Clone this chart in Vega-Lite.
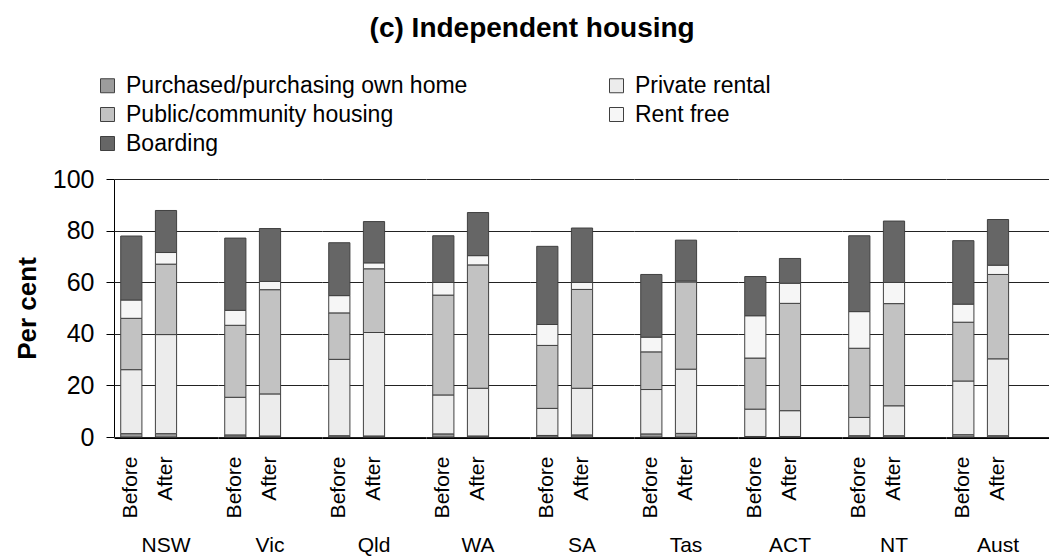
{
  "$schema": "https://vega.github.io/schema/vega-lite/v6.json",
  "padding": {"left": 14, "top": 15, "right": 0, "bottom": 0},
  "background": "white",
  "title": {"text": "(c) Independent housing", "fontSize": 28, "fontWeight": "bold", "anchor": "middle", "frame": "bounds", "color": "#000", "offset": 31},
  "data": {"values": [
    {"jur":"NSW","period":"Before","type":"Purchased/purchasing own home","value":1.3},
    {"jur":"NSW","period":"Before","type":"Private rental","value":24.8},
    {"jur":"NSW","period":"Before","type":"Public/community housing","value":19.9},
    {"jur":"NSW","period":"Before","type":"Rent free","value":7.1},
    {"jur":"NSW","period":"Before","type":"Boarding","value":24.8},
    {"jur":"NSW","period":"After","type":"Purchased/purchasing own home","value":1.3},
    {"jur":"NSW","period":"After","type":"Private rental","value":38.4},
    {"jur":"NSW","period":"After","type":"Public/community housing","value":27.3},
    {"jur":"NSW","period":"After","type":"Rent free","value":4.5},
    {"jur":"NSW","period":"After","type":"Boarding","value":16.3},
    {"jur":"Vic","period":"Before","type":"Purchased/purchasing own home","value":0.8},
    {"jur":"Vic","period":"Before","type":"Private rental","value":14.6},
    {"jur":"Vic","period":"Before","type":"Public/community housing","value":27.9},
    {"jur":"Vic","period":"Before","type":"Rent free","value":5.8},
    {"jur":"Vic","period":"Before","type":"Boarding","value":28.0},
    {"jur":"Vic","period":"After","type":"Purchased/purchasing own home","value":0.4},
    {"jur":"Vic","period":"After","type":"Private rental","value":16.3},
    {"jur":"Vic","period":"After","type":"Public/community housing","value":40.4},
    {"jur":"Vic","period":"After","type":"Rent free","value":3.2},
    {"jur":"Vic","period":"After","type":"Boarding","value":20.5},
    {"jur":"Qld","period":"Before","type":"Purchased/purchasing own home","value":0.5},
    {"jur":"Qld","period":"Before","type":"Private rental","value":29.6},
    {"jur":"Qld","period":"Before","type":"Public/community housing","value":18.0},
    {"jur":"Qld","period":"Before","type":"Rent free","value":6.7},
    {"jur":"Qld","period":"Before","type":"Boarding","value":20.5},
    {"jur":"Qld","period":"After","type":"Purchased/purchasing own home","value":0.4},
    {"jur":"Qld","period":"After","type":"Private rental","value":40.1},
    {"jur":"Qld","period":"After","type":"Public/community housing","value":24.7},
    {"jur":"Qld","period":"After","type":"Rent free","value":2.3},
    {"jur":"Qld","period":"After","type":"Boarding","value":16.0},
    {"jur":"WA","period":"Before","type":"Purchased/purchasing own home","value":1.2},
    {"jur":"WA","period":"Before","type":"Private rental","value":15.1},
    {"jur":"WA","period":"Before","type":"Public/community housing","value":38.7},
    {"jur":"WA","period":"Before","type":"Rent free","value":4.9},
    {"jur":"WA","period":"Before","type":"Boarding","value":18.1},
    {"jur":"WA","period":"After","type":"Purchased/purchasing own home","value":0.4},
    {"jur":"WA","period":"After","type":"Private rental","value":18.5},
    {"jur":"WA","period":"After","type":"Public/community housing","value":47.8},
    {"jur":"WA","period":"After","type":"Rent free","value":3.6},
    {"jur":"WA","period":"After","type":"Boarding","value":16.7},
    {"jur":"SA","period":"Before","type":"Purchased/purchasing own home","value":0.6},
    {"jur":"SA","period":"Before","type":"Private rental","value":10.5},
    {"jur":"SA","period":"Before","type":"Public/community housing","value":24.4},
    {"jur":"SA","period":"Before","type":"Rent free","value":8.1},
    {"jur":"SA","period":"Before","type":"Boarding","value":30.3},
    {"jur":"SA","period":"After","type":"Purchased/purchasing own home","value":0.8},
    {"jur":"SA","period":"After","type":"Private rental","value":18.1},
    {"jur":"SA","period":"After","type":"Public/community housing","value":38.3},
    {"jur":"SA","period":"After","type":"Rent free","value":2.7},
    {"jur":"SA","period":"After","type":"Boarding","value":21.1},
    {"jur":"Tas","period":"Before","type":"Purchased/purchasing own home","value":1.2},
    {"jur":"Tas","period":"Before","type":"Private rental","value":17.2},
    {"jur":"Tas","period":"Before","type":"Public/community housing","value":14.6},
    {"jur":"Tas","period":"Before","type":"Rent free","value":5.7},
    {"jur":"Tas","period":"Before","type":"Boarding","value":24.3},
    {"jur":"Tas","period":"After","type":"Purchased/purchasing own home","value":1.4},
    {"jur":"Tas","period":"After","type":"Private rental","value":24.9},
    {"jur":"Tas","period":"After","type":"Public/community housing","value":33.8},
    {"jur":"Tas","period":"After","type":"Rent free","value":0.4},
    {"jur":"Tas","period":"After","type":"Boarding","value":15.8},
    {"jur":"ACT","period":"Before","type":"Purchased/purchasing own home","value":0.2},
    {"jur":"ACT","period":"Before","type":"Private rental","value":10.6},
    {"jur":"ACT","period":"Before","type":"Public/community housing","value":19.8},
    {"jur":"ACT","period":"Before","type":"Rent free","value":16.4},
    {"jur":"ACT","period":"Before","type":"Boarding","value":15.2},
    {"jur":"ACT","period":"After","type":"Purchased/purchasing own home","value":0.2},
    {"jur":"ACT","period":"After","type":"Private rental","value":10.0},
    {"jur":"ACT","period":"After","type":"Public/community housing","value":41.6},
    {"jur":"ACT","period":"After","type":"Rent free","value":7.8},
    {"jur":"ACT","period":"After","type":"Boarding","value":9.6},
    {"jur":"NT","period":"Before","type":"Purchased/purchasing own home","value":0.5},
    {"jur":"NT","period":"Before","type":"Private rental","value":7.1},
    {"jur":"NT","period":"Before","type":"Public/community housing","value":26.8},
    {"jur":"NT","period":"Before","type":"Rent free","value":14.2},
    {"jur":"NT","period":"Before","type":"Boarding","value":29.4},
    {"jur":"NT","period":"After","type":"Purchased/purchasing own home","value":0.5},
    {"jur":"NT","period":"After","type":"Private rental","value":11.6},
    {"jur":"NT","period":"After","type":"Public/community housing","value":39.6},
    {"jur":"NT","period":"After","type":"Rent free","value":8.2},
    {"jur":"NT","period":"After","type":"Boarding","value":23.8},
    {"jur":"Aust","period":"Before","type":"Purchased/purchasing own home","value":0.9},
    {"jur":"Aust","period":"Before","type":"Private rental","value":20.8},
    {"jur":"Aust","period":"Before","type":"Public/community housing","value":22.8},
    {"jur":"Aust","period":"Before","type":"Rent free","value":7.0},
    {"jur":"Aust","period":"Before","type":"Boarding","value":24.6},
    {"jur":"Aust","period":"After","type":"Purchased/purchasing own home","value":0.5},
    {"jur":"Aust","period":"After","type":"Private rental","value":29.8},
    {"jur":"Aust","period":"After","type":"Public/community housing","value":32.7},
    {"jur":"Aust","period":"After","type":"Rent free","value":3.6},
    {"jur":"Aust","period":"After","type":"Boarding","value":17.7}
  ]},
  "transform": [
    {"calculate": "indexof(['Purchased/purchasing own home','Private rental','Public/community housing','Rent free','Boarding'], datum.type)", "as": "stack_order"}
  ],
  "facet": {
    "column": {
      "field": "jur",
      "type": "nominal",
      "sort": ["NSW","Vic","Qld","WA","SA","Tas","ACT","NT","Aust"],
      "header": {"title": null, "labelOrient": "bottom", "labelFontSize": 21, "labelColor": "#000", "labelPadding": 17, "labelFont": "Liberation Sans"}
    }
  },
  "spacing": 0,
  "spec": {
    "width": 104,
    "height": 258,
    "mark": {"type": "bar", "stroke": "#404040", "strokeWidth": 1},
    "encoding": {
      "x": {
        "field": "period",
        "type": "nominal",
        "scale": {"domain": ["Before","After"," "], "paddingInner": 0.389, "paddingOuter": 0.194},
        "axis": {"title": null, "ticks": false, "labelAngle": 270, "labelFontSize": 21, "labelColor": "#000", "labelPadding": 18, "domainColor": "#000", "domainWidth": 1, "grid": false}
      },
      "y": {
        "field": "value",
        "type": "quantitative",
        "stack": "zero",
        "scale": {"domain": [0, 100], "nice": false},
        "axis": {"title": "Per cent", "titleFontSize": 26, "titleFontWeight": "bold", "titleColor": "#000", "titlePadding": 12, "labelFontSize": 25, "labelColor": "#000", "labelPadding": 12, "tickSize": 8, "tickColor": "#000", "values": [0,20,40,60,80,100], "domainColor": "#000", "gridColor": "#222", "gridWidth": 1}
      },
      "order": {"field": "stack_order", "type": "quantitative", "sort": "ascending"},
      "color": {
        "field": "type",
        "type": "nominal",
        "sort": ["Purchased/purchasing own home","Private rental","Public/community housing","Rent free","Boarding"],
        "scale": {
          "domain": ["Purchased/purchasing own home","Private rental","Public/community housing","Rent free","Boarding"],
          "range": ["#9c9c9c","#ececec","#c2c2c2","#f6f6f6","#666666"]
        },
        "legend": {
          "title": null,
          "orient": "none",
          "legendX": -18,
          "legendY": -105,
          "columns": 2,
          "direction": "horizontal",
          "columnPadding": 137,
          "rowPadding": 5,
          "symbolType": "square",
          "symbolSize": 196,
          "symbolStrokeColor": "#404040",
          "symbolStrokeWidth": 1,
          "labelFontSize": 23,
          "labelColor": "#000",
          "labelOffset": 7,
          "labelLimit": 500
        }
      }
    }
  },
  "config": {
    "font": "Liberation Sans",
    "view": {"stroke": null},
    "axis": {"labelFont": "Liberation Sans", "titleFont": "Liberation Sans"},
    "legend": {"labelFont": "Liberation Sans"}
  }
}
